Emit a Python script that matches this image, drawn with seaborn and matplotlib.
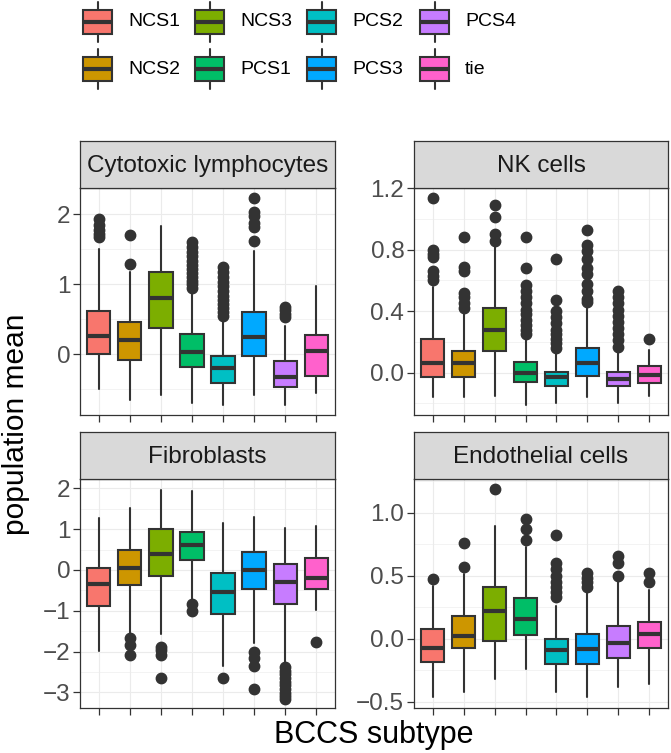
import seaborn as sns
import numpy as np
import matplotlib.pyplot as plt
from matplotlib.patches import Rectangle
from matplotlib.ticker import MultipleLocator

# subtypes and the ggplot hue colours
subtypes = ['NCS1', 'NCS2', 'NCS3', 'PCS1', 'PCS2', 'PCS3', 'PCS4', 'tie']
colors = ['#F8766D', '#CD9600', '#7CAE00', '#00BE67', '#00BFC4', '#00A9FF', '#C77CFF', '#FF61CC']

# box statistics: whisker low, q1, median, q3, whisker high, outliers
cyto_lo = [-0.49, -0.65, -0.58, -0.69, -0.72, -0.58, -0.72, -0.55]
cyto_q1 = [0.00, -0.08, 0.37, -0.18, -0.41, -0.03, -0.46, -0.31]
cyto_med = [0.26, 0.20, 0.81, 0.04, -0.20, 0.25, -0.32, 0.05]
cyto_q3 = [0.62, 0.46, 1.17, 0.29, -0.03, 0.60, -0.09, 0.27]
cyto_hi = [1.51, 1.18, 1.83, 0.90, 0.50, 1.48, 0.40, 0.98]
cyto_out = [[1.93, 1.85, 1.78, 1.72, 1.68], [1.70, 1.29], [],
            [1.60, 1.53, 1.46, 1.40, 1.34, 1.28, 1.22, 1.16, 1.10, 1.05, 1.00, 0.95],
            [1.25, 1.18, 1.10, 1.03, 0.97, 0.90, 0.84, 0.78, 0.72, 0.66, 0.60, 0.55],
            [2.24, 2.03, 1.97, 1.88, 1.82, 1.62], [0.68, 0.63, 0.58, 0.53], []]

nk_lo = [-0.16, -0.16, -0.15, -0.21, -0.20, -0.16, -0.20, -0.15]
nk_q1 = [-0.03, -0.03, 0.14, -0.06, -0.09, -0.02, -0.09, -0.07]
nk_med = [0.06, 0.06, 0.28, 0.00, -0.03, 0.06, -0.04, -0.015]
nk_q3 = [0.22, 0.14, 0.42, 0.07, 0.005, 0.16, 0.005, 0.04]
nk_hi = [0.56, 0.39, 0.85, 0.22, 0.13, 0.42, 0.15, 0.15]
nk_out = [[1.14, 0.80, 0.77, 0.75, 0.66, 0.63, 0.60], [0.88, 0.69, 0.66, 0.52, 0.49, 0.45, 0.42],
          [1.09, 1.01, 0.90, 0.86],
          [0.88, 0.68, 0.57, 0.53, 0.49, 0.45, 0.41, 0.38, 0.34, 0.31, 0.28, 0.25],
          [0.74, 0.47, 0.40, 0.36, 0.32, 0.28, 0.25, 0.22, 0.19, 0.16],
          [0.93, 0.83, 0.79, 0.74, 0.68, 0.64, 0.58, 0.53, 0.48, 0.46],
          [0.53, 0.49, 0.45, 0.41, 0.37, 0.33, 0.29, 0.25, 0.21, 0.17], [0.22]]

fib_lo = [-1.99, -1.56, -1.57, -0.74, -2.35, -1.79, -2.30, -0.97]
fib_q1 = [-0.89, -0.37, -0.14, 0.25, -1.07, -0.47, -0.84, -0.47]
fib_med = [-0.34, 0.06, 0.39, 0.62, -0.55, 0.00, -0.30, -0.19]
fib_q3 = [0.04, 0.49, 1.01, 0.93, -0.07, 0.43, 0.15, 0.30]
fib_hi = [1.27, 1.52, 1.97, 1.94, 1.15, 1.31, 1.03, 1.08]
fib_out = [[], [-1.68, -1.84, -2.09], [-1.89, -1.97, -2.09, -2.66], [-0.84, -1.01],
           [-2.65], [-2.01, -2.17, -2.35, -2.93],
           [-2.38, -2.47, -2.56, -2.65, -2.74, -2.83, -2.92, -3.01, -3.10, -3.17], [-1.76]]

endo_lo = [-0.46, -0.42, -0.32, -0.24, -0.42, -0.46, -0.38, -0.36]
endo_q1 = [-0.18, -0.07, -0.02, 0.03, -0.20, -0.20, -0.15, -0.07]
endo_med = [-0.07, 0.02, 0.22, 0.16, -0.09, -0.08, -0.03, 0.035]
endo_q3 = [0.08, 0.18, 0.41, 0.32, 0.00, 0.04, 0.10, 0.13]
endo_hi = [0.42, 0.51, 0.89, 0.73, 0.26, 0.37, 0.46, 0.39]
endo_out = [[0.47], [0.57, 0.76], [1.19], [0.78, 0.87, 0.95],
            [0.33, 0.37, 0.41, 0.45, 0.50, 0.55, 0.60, 0.82], [0.41, 0.45, 0.48, 0.52],
            [0.50, 0.60, 0.66], [0.45, 0.52]]

sns.set_style('white')
plt.rcParams['font.family'] = ['Liberation Sans', 'DejaVu Sans']
palette = sns.color_palette(colors)

W, H = 671, 753
fig = plt.figure(figsize=(W / 100, H / 100), dpi=100)


def px_axes(x0, y0, x1, y1):
    return fig.add_axes([x0 / W, 1 - y1 / H, (x1 - x0) / W, (y1 - y0) / H])


def panel(box, title, lo, q1, med, q3, hi, out, ylim, step):
    x0, y0, x1, y1 = box
    ax = px_axes(x0, y0, x1, y1)
    stats = [dict(whislo=lo[i], q1=q1[i], med=med[i], q3=q3[i], whishi=hi[i],
                  fliers=out[i]) for i in range(len(subtypes))]
    res = ax.bxp(stats, positions=range(len(subtypes)), widths=0.75, patch_artist=True,
                 showcaps=False,
                 boxprops=dict(edgecolor='#333333', linewidth=1.5),
                 whiskerprops=dict(color='#333333', linewidth=1.5),
                 medianprops=dict(color='#333333', linewidth=3.0, solid_capstyle='butt'),
                 flierprops=dict(marker='o', markerfacecolor='#333333', markeredgecolor='#333333',
                                 markersize=7.5, linestyle='none'))
    for patch, c in zip(res['boxes'], palette):
        patch.set_facecolor(c)
    ax.set_xlim(-0.6, len(subtypes) - 0.4)
    ax.set_ylim(*ylim)
    ax.yaxis.set_major_locator(MultipleLocator(step))
    ax.yaxis.set_minor_locator(MultipleLocator(step / 2))
    ax.set_xticks(range(len(subtypes)))
    ax.set_xticklabels([])
    ax.set_axisbelow(True)
    ax.grid(True, which='major', color='#EBEBEB', linewidth=0.8)
    ax.grid(True, which='minor', axis='y', color='#EBEBEB', linewidth=0.4)
    ax.tick_params(axis='both', which='major', length=5, width=0.9, color='#333333',
                   labelsize=17.5, labelcolor='#4D4D4D', pad=2, bottom=True, left=True)
    ax.tick_params(which='minor', length=0)
    for s in ax.spines.values():
        s.set_color('#333333')
        s.set_linewidth(0.9)
    # facet strip
    st = px_axes(x0, y0 - 47, x1, y0)
    st.set_facecolor('#D9D9D9')
    st.set_xticks([])
    st.set_yticks([])
    for s in st.spines.values():
        s.set_color('#333333')
        s.set_linewidth(0.9)
    st.text(0.5, 0.47, title, ha='center', va='center', fontsize=17.5, color='#1A1A1A',
            transform=st.transAxes)
    return ax


panel((80, 188, 335, 415), 'Cytotoxic lymphocytes', cyto_lo, cyto_q1, cyto_med, cyto_q3,
      cyto_hi, cyto_out, (-0.867, 2.376), 1)
panel((414, 188, 668, 415), 'NK cells', nk_lo, nk_q1, nk_med, nk_q3, nk_hi, nk_out,
      (-0.276, 1.202), 0.4)
panel((80, 479, 335, 708), 'Fibroblasts', fib_lo, fib_q1, fib_med, fib_q3, fib_hi, fib_out,
      (-3.385, 2.23), 1)
panel((414, 479, 668, 708), 'Endothelial cells', endo_lo, endo_q1, endo_med, endo_q3,
      endo_hi, endo_out, (-0.548, 1.266), 0.5)

fig.text(16 / W, 1 - 424 / H, 'population mean', rotation=90, ha='center', va='center',
         fontsize=21.5, color='black')
fig.text(374 / W, 1 - 735 / H, 'BCCS subtype', ha='center', va='center', fontsize=22,
         color='black')

# legend drawn as ggplot-style boxplot keys, two rows, column-major order
lg = px_axes(0, 0, W, 100)
lg.set_xlim(0, W)
lg.set_ylim(100, 0)
lg.axis('off')
col_x = [83, 195, 307, 420]
row_y = [10, 57]
for i, (name, c) in enumerate(zip(subtypes, palette)):
    kx = col_x[i // 2]
    ky = row_y[i % 2]
    cx = kx + 14.5
    lg.plot([cx, cx], [ky - 8, ky], color='#333333', lw=1.5)
    lg.plot([cx, cx], [ky + 24, ky + 32], color='#333333', lw=1.5)
    lg.add_patch(Rectangle((kx, ky), 29, 24, facecolor=c, edgecolor='#333333', lw=1.5))
    lg.plot([kx, kx + 29], [ky + 12, ky + 12], color='#333333', lw=3.0, solid_capstyle='butt')
    lg.text(kx + 45, ky + 12, name, ha='left', va='center', fontsize=14, color='black')

fig.savefig('out.png', dpi=100)
